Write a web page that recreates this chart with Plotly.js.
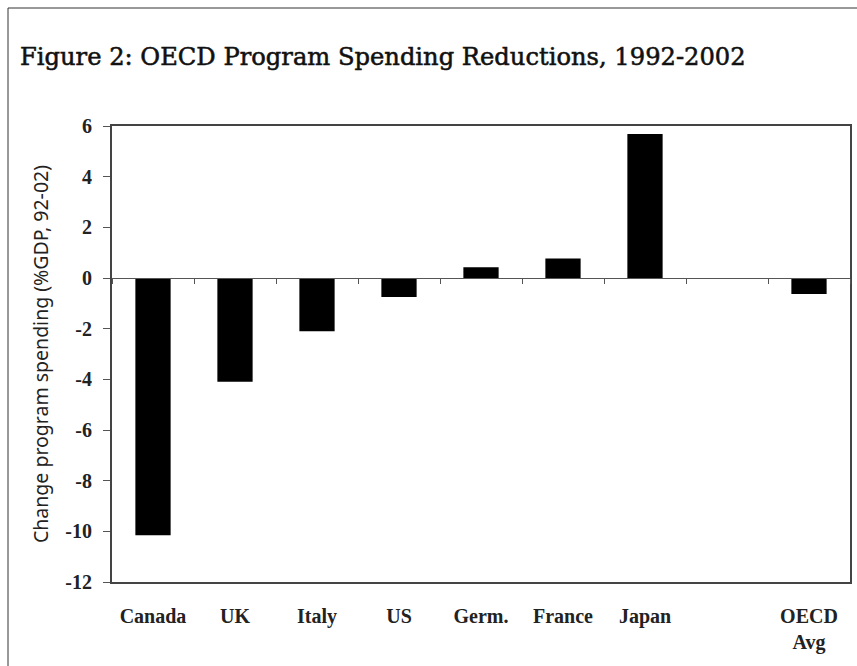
<!DOCTYPE html>
<html><head><meta charset="utf-8">
<script src="https://cdn.plot.ly/plotly-3.0.1.min.js"></script>
<style>body{margin:0;background:#fff}#chart{width:857px;height:666px}
.gtitle{stroke:#111;stroke-width:0.55px}</style>
</head><body><div id="chart"></div>
<script>
const categories = ["Canada","UK","Italy","US","Germ.","France","Japan"," ","OECD Avg"];
const categoryLabels = ["Canada","UK","Italy","US","Germ.","France","Japan","","OECD<br>Avg"];
const spendingChange = [-10.15, -4.1, -2.1, -0.75, 0.42, 0.77, 5.68, null, -0.63];
const yTickVals = [-12,-10,-8,-6,-4,-2,0,2,4,6];
const yTickText = ["-12","-10","-8","-6","-4","-2","0","2","4","6"];
const titleText = "Figure 2: OECD Program Spending Reductions, 1992-2002";
const yTitleText = "Change program spending (%GDP, 92-02)";

const tickFont = {family:"Liberation Serif, Times New Roman, serif", size:20, color:"#222", weight:"bold"};

const data = [
  {type:"bar", x:categories, y:spendingChange, marker:{color:"#000"}, hoverinfo:"skip", showlegend:false},
  {type:"scatter", mode:"markers", x:categories, y:spendingChange, xaxis:"x2", yaxis:"y",
   marker:{opacity:0}, hoverinfo:"skip", showlegend:false}
];

const layout = {
  width:857, height:666,
  margin:{l:112, r:7, t:126, b:84},
  paper_bgcolor:"#fff", plot_bgcolor:"#fff",
  bargap:0.57,
  title:{text:titleText, x:20/857, xanchor:"left", xref:"container", y:1-57/666, yanchor:"middle", yref:"container",
         font:{family:"DejaVu Serif, serif", size:24.2, color:"#111", weight:"normal"}},
  xaxis:{type:"category", range:[-0.5,8.5], tickvals:categories, ticktext:categoryLabels,
         tickfont:tickFont, showline:true, linecolor:"#444", linewidth:2, mirror:true,
         ticks:"outside", ticklen:15, tickcolor:"rgba(0,0,0,0)", showgrid:false, zeroline:false, fixedrange:true},
  xaxis2:{type:"category", overlaying:"x", anchor:"free", position:2/3, range:[-0.5,8.5],
          showline:true, linecolor:"#555", linewidth:1, ticks:"outside", tickson:"boundaries",
          ticklen:5, tickcolor:"#555", showticklabels:false, showgrid:false, zeroline:false},
  yaxis:{range:[-12,6], domain:[0,1], tickvals:yTickVals, ticktext:yTickText, tickfont:tickFont,
         ticks:"outside", ticklen:7, tickcolor:"#555", ticklabelstandoff:7,
         showline:true, linecolor:"#444", linewidth:2, mirror:true,
         showgrid:false, zeroline:false,
         title:{text:yTitleText, standoff:12, font:{family:"Noto Sans, sans-serif", size:19.5, color:"#222"}}},
  shapes:[{type:"rect", xref:"paper", yref:"paper", x0:-104/738, y0:-0.3, x1:1.2, y1:(582-8)/456,
           line:{color:"#333", width:1}, fillcolor:"rgba(0,0,0,0)"}]
};

Plotly.newPlot("chart", data, layout, {displayModeBar:false, staticPlot:true});
</script>
</body></html>
